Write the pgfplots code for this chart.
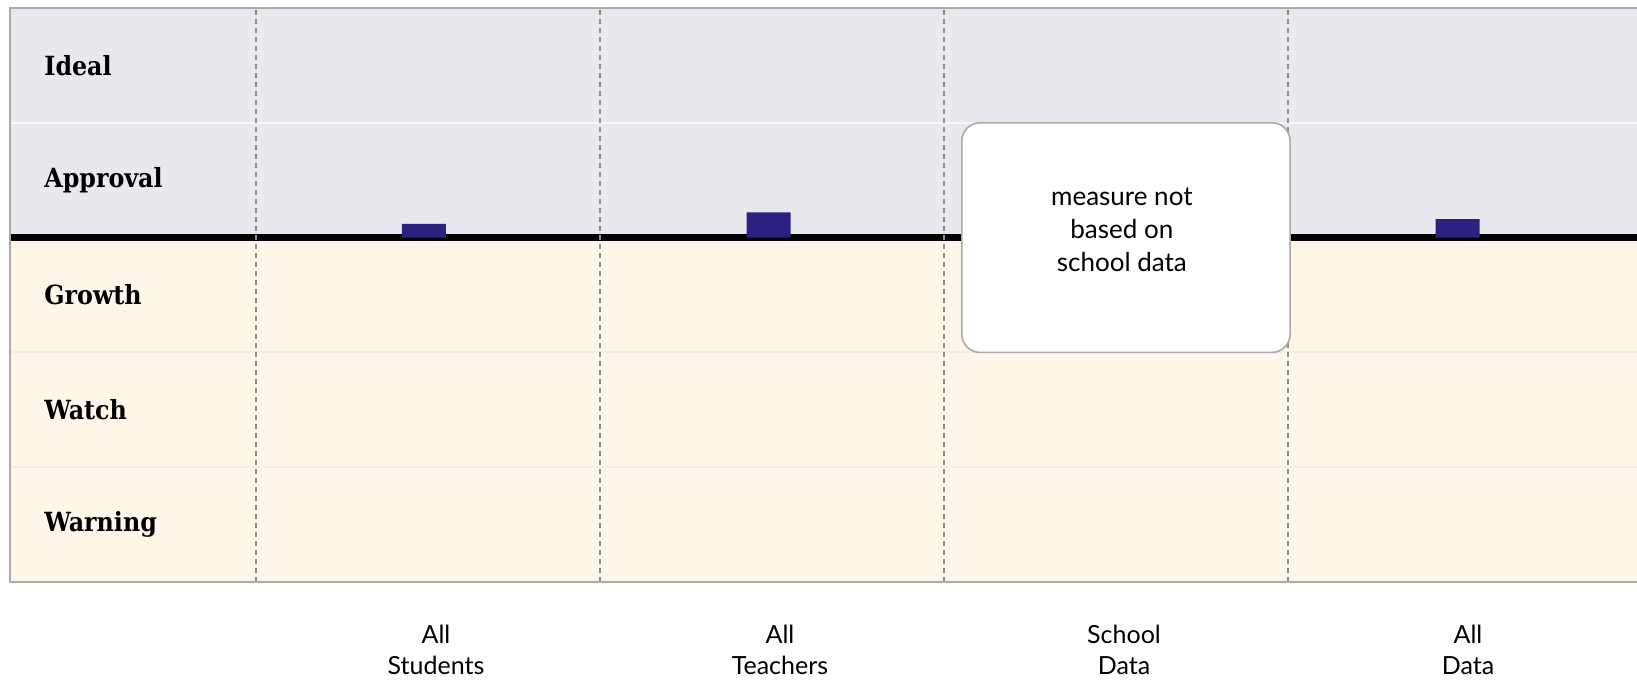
\documentclass[border=0pt]{standalone}
\usepackage{fontspec}
\setmainfont{Lato}
\newfontfamily\slab{DejaVu Serif Condensed}
\usepackage{pgfplots}
\pgfplotsset{compat=1.18}
\definecolor{topband}{HTML}{E8E8EE}
\definecolor{lowband}{HTML}{FEF6E9}
\definecolor{lowline}{HTML}{F4EBE2}
\definecolor{barblue}{HTML}{2A2180}
\definecolor{framegray}{HTML}{ABABAB}
\definecolor{gridgray}{HTML}{8E8E8E}
\begin{document}
\begin{tikzpicture}
\begin{axis}[
  name=ax,
  set layers,
  scale only axis,
  width=813.5pt, height=287pt,
  xmin=-0.215, xmax=4.5145,
  ymin=-3, ymax=2,
  axis line style={draw=none},
  major tick length=0pt, minor tick length=0pt,
  xtick={1,2,3,4},
  xticklabels={{All\\Students},{All\\Teachers},{School\\Data},{All\\Data}},
  xticklabel style={align=center, font=\fontsize{12.5}{15.5}\selectfont, yshift=-18pt, xshift=4pt},
  ytick={-2.5,-1.5,-0.5,0.5,1.5},
  yticklabels={Warning,Watch,Growth,Approval,Ideal},
  yticklabel style={anchor=west, xshift=17pt, inner sep=0pt, font=\slab\bfseries\fontsize{13.2}{15}\selectfont},
  minor xtick={0.5,1.5,2.5,3.5},
  xminorgrids,
  minor x grid style={gridgray, line width=0.7pt, dash pattern=on 2.5pt off 2pt},
  clip=false,
]
\begin{pgfonlayer}{axis background}
  \fill[lowband] (axis cs:-0.215,-3) rectangle (axis cs:4.5145,0);
  \fill[topband] (axis cs:-0.215,0) rectangle (axis cs:4.5145,2);
  \draw[white!75!topband, line width=1pt] (axis cs:-0.215,1) -- (axis cs:4.5145,1);
  \draw[lowline, line width=1pt] (axis cs:-0.215,-1) -- (axis cs:4.5145,-1);
  \draw[lowline, line width=1pt] (axis cs:-0.215,-2) -- (axis cs:4.5145,-2);
  \draw[black, line width=3.6pt] (axis cs:-0.215,0) -- (axis cs:4.5145,0);
\end{pgfonlayer}

% score bars, measured up from the approval line
\addplot[ybar, bar width=22pt, fill=barblue, draw=none]
  coordinates {(0.988,0.12) (1.99,0.22) (3.993,0.16)};

\draw[framegray, fill=white, rounded corners=9pt, line width=0.8pt]
  (axis cs:2.552,-1) rectangle (axis cs:3.506,1);
\node[align=center, font=\fontsize{13}{16.5}\selectfont] at (axis cs:3.017,0.065)
  {measure not\\based on\\school data};

\begin{pgfonlayer}{axis foreground}
  \draw[framegray, line width=1pt] (axis cs:4.5145,2) -- (axis cs:-0.215,2)
    -- (axis cs:-0.215,-3) -- (axis cs:4.5145,-3);
\end{pgfonlayer}
\end{axis}
\pgfresetboundingbox
\path (ax.south west) ++(-5pt,-50.5pt) rectangle ++(818.5pt,341.5pt);
\end{tikzpicture}
\end{document}
